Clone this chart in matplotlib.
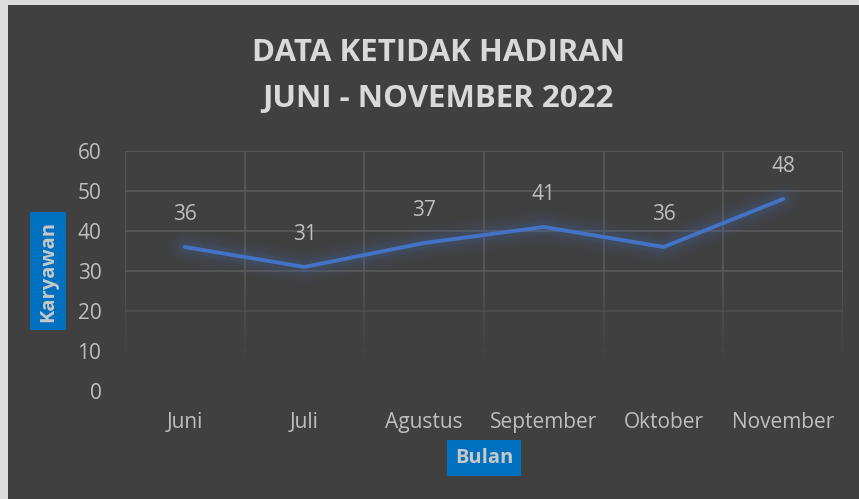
import numpy as np
import matplotlib
matplotlib.use("Agg")
from matplotlib import pyplot as plt

## Dati

bulan = ["Juni", "Juli", "Agustus", "September", "Oktober", "November"]
karyawan = [36, 31, 37, 41, 36, 48]
yticks = [0, 10, 20, 30, 40, 50, 60]

bg = "#404040"
testo = "#bfbfbf"
blu = "#4472c4"
griglia = "#5a5a5a"
plt.rcParams['font.family'] = ['Open Sans', 'DejaVu Sans']

fig = plt.figure(figsize=(8.59, 4.99), dpi=100, facecolor="#dcdcdc")
sfondo = fig.add_axes([8/859, 0, 1 - 8/859, 1 - 5/499], zorder=-5)
sfondo.set_axis_off()
sfondo.add_patch(plt.Rectangle((0, 0), 1, 1, transform=sfondo.transAxes, facecolor=bg, edgecolor="none"))

ax = fig.add_axes([125/859, 1 - 391/499, 718/859, 240/499])
ax.patch.set_alpha(0)
x = np.arange(len(bulan))
ax.set_xlim(-0.5, len(bulan) - 0.5)
ax.set_ylim(0, 60)

## Griglia (sfuma verso il basso)

def alfa(y):
    return float(np.clip((y - 5) / 25, 0, 1)) ** 1.3

for yv in yticks[1:]:
    ax.axhline(yv, color=griglia, lw=1.2, alpha=alfa(yv), zorder=1)
livelli = np.linspace(0, 60, 61)
for xv in np.arange(-0.5, len(bulan), 1.0):
    for y0, y1 in zip(livelli[:-1], livelli[1:]):
        a = alfa((y0 + y1) / 2)
        if a > 0:
            ax.plot([xv, xv], [y0, y1], color=griglia, lw=1.2, alpha=a,
                    solid_capstyle="butt", zorder=1)

for s in ax.spines.values():
    s.set_visible(False)

## Linea con alone

for w, a in [(24, 0.035), (18, 0.05), (12, 0.07), (8, 0.1)]:
    ax.plot(x, karyawan, color=blu, lw=w, alpha=a, solid_capstyle="round",
            solid_joinstyle="round", zorder=2)
ax.plot(x, karyawan, color=blu, lw=2.8, solid_capstyle="round", zorder=3)

for xi, v in zip(x, karyawan):
    ax.annotate(str(v), (xi, v), xytext=(0, 16), textcoords="offset points",
                ha="center", va="bottom", color=testo, fontsize=15)

ax.set_xticks(x)
ax.set_xticklabels(bulan)
ax.set_yticks(yticks)
ax.tick_params(axis="both", length=0, colors=testo, labelsize=15)
ax.tick_params(axis="x", pad=15)
ax.tick_params(axis="y", pad=17)

## Titoli

fig.text(438/859, 1 - 53/499, "DATA KETIDAK HADIRAN", ha="center", va="center",
         color="#d9d9d9", fontsize=22.5, fontweight="bold")
fig.text(438/859, 1 - 99/499, "JUNI - NOVEMBER 2022", ha="center", va="center",
         color="#d9d9d9", fontsize=22.5, fontweight="bold")

fig.text(48/859, 1 - 271/499, "Karyawan", rotation=90, ha="center", va="center",
         color="#c8c8c8", fontsize=14.5, fontweight="bold",
         bbox=dict(boxstyle="square,pad=0.4", facecolor="#0070c0", edgecolor="none"))
fig.text(484/859, 1 - 458/499, "Bulan", ha="center", va="center",
         color="#c8c8c8", fontsize=14.5, fontweight="bold",
         bbox=dict(boxstyle="square,pad=0.4", facecolor="#0070c0", edgecolor="none"))

plt.savefig("out.png", dpi=100, facecolor=fig.get_facecolor())
